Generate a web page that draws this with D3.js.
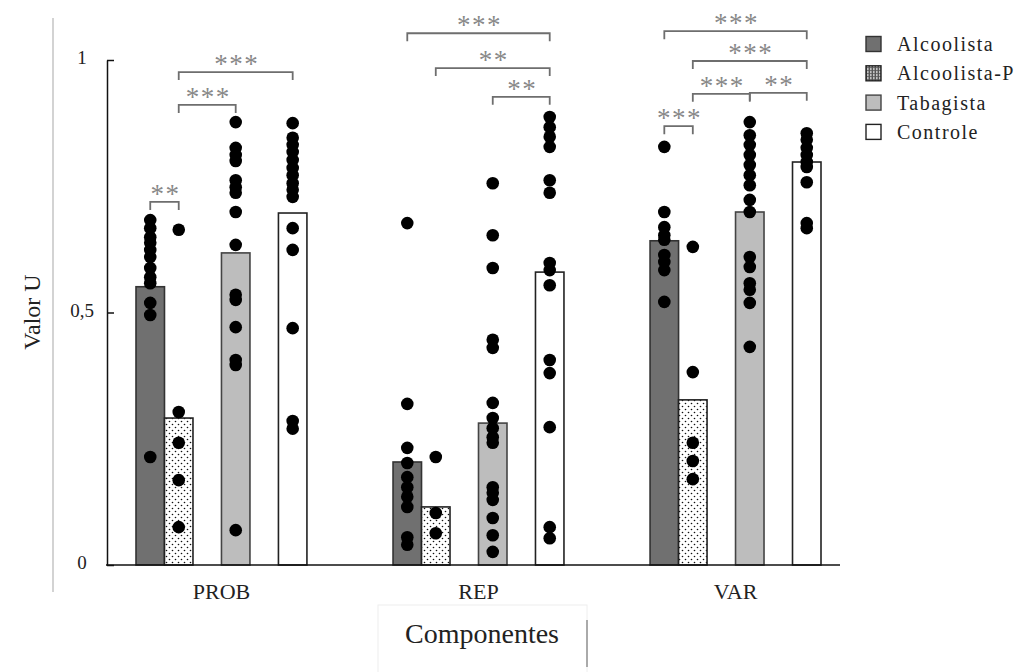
<!DOCTYPE html>
<html lang="pt">
<head>
  <meta charset="UTF-8">
  <title>Valor U por componente</title>
  <style>
    body { margin: 0; background: #fff; }
    svg { display: block; font-family: "Liberation Serif", "Times New Roman", serif; }
    .tick text { font-size: 19px; fill: #222; font-family: "Liberation Serif", "Times New Roman", serif; }
    .sig text { fill: #888; font-size: 27px; letter-spacing: 1.5px; text-anchor: middle; }
  </style>
</head>
<body>
  <svg width="1020" height="672"></svg>

  <script src="https://d3js.org/d3.v7.min.js"></script>
  <script>
    const componentes = ["PROB", "REP", "VAR"];
    const grupos = ["Alcoolista", "Alcoolista-P", "Tabagista", "Controle"];
    const yTicks = [0, 0.5, 1];

    // mean bar per group, in component order
    const alcoolista  = [0.551, 0.204, 0.642];
    const alcoolistaP = [0.291, 0.115, 0.327];
    const tabagista   = [0.618, 0.281, 0.699];
    const controle    = [0.697, 0.580, 0.798];

    // individual subjects (dots), one list per group
    const pontosPROB = [
      [0.683, 0.667, 0.649, 0.638, 0.624, 0.610, 0.588, 0.570, 0.558, 0.519, 0.495, 0.214],
      [0.664, 0.303, 0.242, 0.168, 0.075],
      [0.877, 0.826, 0.812, 0.800, 0.762, 0.748, 0.737, 0.699, 0.634, 0.535, 0.525, 0.471, 0.406, 0.396, 0.069],
      [0.875, 0.846, 0.832, 0.818, 0.802, 0.786, 0.772, 0.756, 0.743, 0.729, 0.667, 0.624, 0.469, 0.285, 0.270]
    ];
    const pontosREP = [
      [0.677, 0.319, 0.232, 0.202, 0.174, 0.154, 0.135, 0.115, 0.055, 0.040],
      [0.214, 0.103, 0.063],
      [0.756, 0.653, 0.588, 0.446, 0.430, 0.321, 0.291, 0.271, 0.253, 0.242, 0.154, 0.143, 0.129, 0.093, 0.059, 0.026],
      [0.887, 0.867, 0.848, 0.828, 0.762, 0.737, 0.598, 0.584, 0.554, 0.406, 0.380, 0.273, 0.075, 0.053]
    ];
    const pontosVAR = [
      [0.828, 0.699, 0.669, 0.653, 0.644, 0.614, 0.600, 0.584, 0.521],
      [0.630, 0.382, 0.242, 0.206, 0.170],
      [0.877, 0.851, 0.832, 0.812, 0.792, 0.772, 0.752, 0.723, 0.699, 0.610, 0.590, 0.558, 0.545, 0.519, 0.432],
      [0.855, 0.842, 0.826, 0.812, 0.798, 0.788, 0.758, 0.677, 0.667]
    ];

    // significance: [component, group a, group b, label, height in Valor U]
    const significancia = [
      ["PROB", 0, 1, "**", 0.719],
      ["PROB", 1, 2, "***", 0.911],
      ["PROB", 1, 3, "***", 0.976],
      ["REP", 0, 3, "***", 1.053],
      ["REP", 1, 3, "**", 0.984],
      ["REP", 2, 3, "**", 0.927],
      ["VAR", 0, 3, "***", 1.057],
      ["VAR", 1, 3, "***", 0.998],
      ["VAR", 1, 2, "***", 0.933],
      ["VAR", 2, 3, "**", 0.935],
      ["VAR", 0, 1, "***", 0.869]
    ];

    const medias = [alcoolista, alcoolistaP, tabagista, controle];
    const pontos = { PROB: pontosPROB, REP: pontosREP, VAR: pontosVAR };

    const svg = d3.select("svg");

    const defs = svg.append("defs");
    const pat = defs.append("pattern")
      .attr("id", "pontilhado")
      .attr("width", 6).attr("height", 6)
      .attr("patternUnits", "userSpaceOnUse");
    pat.append("rect").attr("width", 6).attr("height", 6).attr("fill", "#fff");
    pat.append("circle").attr("cx", 1.5).attr("cy", 1.5).attr("r", 0.8).attr("fill", "#111");
    pat.append("circle").attr("cx", 4.5).attr("cy", 4.5).attr("r", 0.8).attr("fill", "#111");

    const pat2 = defs.append("pattern")
      .attr("id", "grade")
      .attr("width", 3).attr("height", 3)
      .attr("patternUnits", "userSpaceOnUse");
    pat2.append("rect").attr("width", 3).attr("height", 3).attr("fill", "#555");
    pat2.append("rect").attr("x", 1).attr("y", 1).attr("width", 1.6).attr("height", 1.6).attr("fill", "#eee");

    const fills = ["#707070", "url(#pontilhado)", "#bdbdbd", "#fff"];
    const strokes = ["#333", "#222", "#444", "#222"];
    const slots = [0, 1, 3, 5]; // column slot inside each component band

    const y = d3.scaleLinear().domain([0, 1]).range([565, 60]);
    const x = d3.scaleBand().domain(componentes).range([136, 821]).paddingInner(0.335).paddingOuter(0);
    const slotW = x.bandwidth() / 6;
    const cx = (comp, g) => x(comp) + slots[g] * slotW + slotW / 2;

    // faint frame remnants from the original figure
    svg.append("line").attr("x1", 53).attr("x2", 53).attr("y1", 18).attr("y2", 592)
      .attr("stroke", "#c4c4c4").attr("stroke-width", 1.5);
    svg.append("rect").attr("x", 378).attr("y", 605).attr("width", 209).attr("height", 70)
      .attr("fill", "none").attr("stroke", "#eee");
    svg.append("line").attr("x1", 587).attr("x2", 587).attr("y1", 620).attr("y2", 667)
      .attr("stroke", "#777").attr("stroke-width", 1.2);

    // bars
    const barras = [];
    componentes.forEach((c, i) => grupos.forEach((g, j) => barras.push({ c, g: j, v: medias[j][i] })));

    svg.append("g").selectAll("rect")
      .data(barras)
      .enter()
      .append("rect")
      .attr("x", d => x(d.c) + slots[d.g] * slotW)
      .attr("y", d => y(d.v))
      .attr("width", slotW)
      .attr("height", d => y(0) - y(d.v))
      .attr("fill", d => fills[d.g])
      .attr("stroke", d => strokes[d.g])
      .attr("stroke-width", 1.6);

    // dots
    const dots = [];
    componentes.forEach(c => pontos[c].forEach((lista, j) => lista.forEach(v => dots.push({ c, g: j, v }))));

    svg.append("g").selectAll("circle")
      .data(dots)
      .enter()
      .append("circle")
      .attr("cx", d => cx(d.c, d.g))
      .attr("cy", d => y(d.v))
      .attr("r", 6.3)
      .attr("fill", "#000");

    // axes
    const fmt = d3.formatLocale({ decimal: ",", thousands: ".", grouping: [3], currency: ["", ""] }).format("~g");
    const yAxis = svg.append("g")
      .attr("transform", "translate(107,0)")
      .call(d3.axisLeft(y).tickValues(yTicks).tickFormat(fmt).tickSizeInner(-7).tickSizeOuter(0).tickPadding(25));
    yAxis.attr("font-family", null);
    yAxis.select(".domain").attr("stroke", "#111").attr("stroke-width", 1.5);
    yAxis.selectAll(".tick line").attr("stroke", "#111").attr("stroke-width", 1.5);
    yAxis.selectAll(".tick text").attr("text-anchor", "middle").attr("dy", "0.2em");

    svg.append("line").attr("x1", 106).attr("x2", 840).attr("y1", y(0)).attr("y2", y(0))
      .attr("stroke", "#111").attr("stroke-width", 1.5);

    const xAxis = svg.append("g")
      .attr("transform", `translate(0,${y(0)})`)
      .call(d3.axisBottom(x).tickSize(0).tickPadding(18));
    xAxis.attr("font-family", null);
    xAxis.select(".domain").remove();
    xAxis.selectAll(".tick text").style("font-size", "22px");

    svg.append("text")
      .attr("transform", "translate(40,312) rotate(-90)")
      .attr("text-anchor", "middle")
      .style("font-size", "24px")
      .attr("fill", "#222")
      .text("Valor U");

    svg.append("text")
      .attr("x", 482).attr("y", 643)
      .attr("text-anchor", "middle")
      .style("font-size", "28px")
      .attr("fill", "#222")
      .text("Componentes");

    // significance brackets
    const sig = svg.append("g").attr("class", "sig")
      .selectAll("g")
      .data(significancia)
      .enter()
      .append("g");

    sig.append("path")
      .attr("fill", "none")
      .attr("stroke", "#6e6e6e")
      .attr("stroke-width", 1.8)
      .attr("d", d => {
        const x1 = cx(d[0], d[1]), x2 = cx(d[0], d[2]), yy = y(d[4]);
        return `M${x1},${yy + 8}V${yy}H${x2}V${yy + 8}`;
      });

    sig.append("text")
      .attr("x", d => (cx(d[0], d[1]) + cx(d[0], d[2])) / 2 + 1)
      .attr("y", d => y(d[4]) + 1)
      .text(d => d[3]);

    // legend
    const leg = svg.append("g").selectAll("g")
      .data(grupos)
      .enter()
      .append("g")
      .attr("transform", (d, i) => `translate(866,${44 + i * 29.3})`);

    leg.append("rect")
      .attr("x", 0).attr("y", -7.5)
      .attr("width", 15).attr("height", 15)
      .attr("fill", (d, i) => i === 1 ? "url(#grade)" : fills[i])
      .attr("stroke", (d, i) => strokes[i])
      .attr("stroke-width", 1.4);

    leg.append("text")
      .attr("x", 31).attr("y", 7)
      .style("font-size", "20px")
      .style("letter-spacing", "1.5px")
      .attr("fill", "#222")
      .text(d => d);
  </script>
</body>
</html>
